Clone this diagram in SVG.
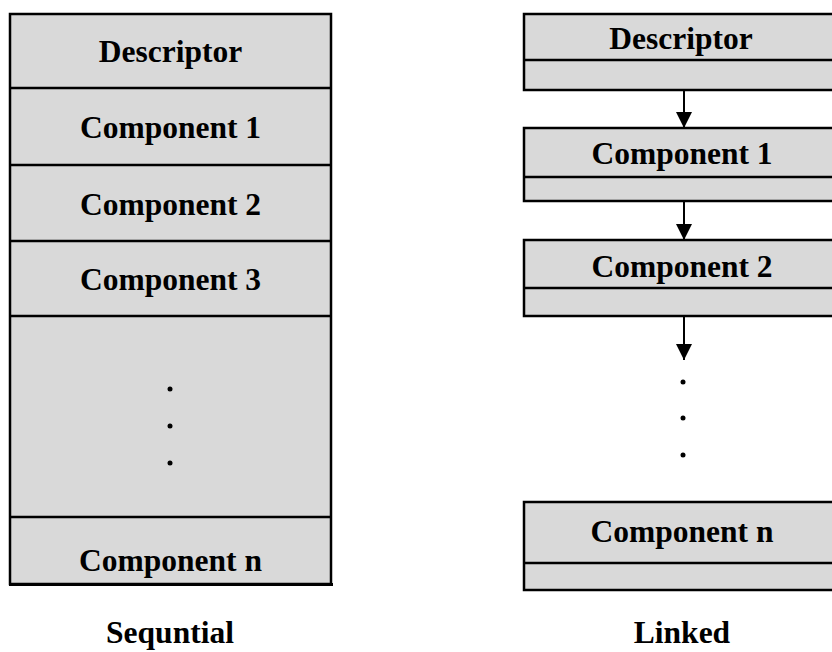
<svg xmlns="http://www.w3.org/2000/svg" width="832" height="652" viewBox="0 0 832 652">
<defs>
<style>
.box{fill:#d9d9d9;stroke:#000;stroke-width:2.5}
.div{stroke:#000;stroke-width:2.5}
.t{font-family:"Liberation Serif","Times New Roman",serif;font-weight:bold;font-size:31.5px;text-anchor:middle;fill:#000}
.conn{stroke:#000;stroke-width:2;fill:none}
</style>
<marker id="ah" markerWidth="16" markerHeight="16" viewBox="0 0 16 16" refX="16" refY="8" orient="auto" markerUnits="userSpaceOnUse">
<path d="M0,0 L16,8 L0,16 Z" fill="#000"/>
</marker>
</defs>
<rect width="832" height="652" fill="#fff"/>
<g id="sequential">
<rect class="box" x="10" y="14" width="321" height="570"/>
<line class="div" x1="10" y1="88" x2="331" y2="88"/>
<line class="div" x1="10" y1="165" x2="331" y2="165"/>
<line class="div" x1="10" y1="241" x2="331" y2="241"/>
<line class="div" x1="10" y1="316" x2="331" y2="316"/>
<line class="div" x1="10" y1="517" x2="331" y2="517"/>
<line x1="9" y1="584.5" x2="333" y2="584.5" stroke="#000" stroke-width="3"/>
<text class="t" x="170.5" y="62">Descriptor</text>
<text class="t" x="170.5" y="138">Component 1</text>
<text class="t" x="170.5" y="215">Component 2</text>
<text class="t" x="170.5" y="290">Component 3</text>
<circle cx="170" cy="389" r="2.5"/>
<circle cx="170" cy="426" r="2.5"/>
<circle cx="170" cy="463" r="2.5"/>
<text class="t" x="170.5" y="571">Component n</text>
</g>
<g id="seq-label"><text class="t" x="170" y="643">Sequntial</text></g>
<g id="l-desc">
<rect class="box" x="524" y="14" width="320" height="76"/>
<line class="div" x1="524" y1="60" x2="844" y2="60"/>
<text class="t" x="681" y="49">Descriptor</text>
</g>
<g id="l-c1">
<rect class="box" x="524" y="128" width="320" height="73"/>
<line class="div" x1="524" y1="177" x2="844" y2="177"/>
<text class="t" x="682" y="164">Component 1</text>
</g>
<g id="l-c2">
<rect class="box" x="524" y="240" width="320" height="76"/>
<line class="div" x1="524" y1="288" x2="844" y2="288"/>
<text class="t" x="682" y="277">Component 2</text>
</g>
<g id="l-dots">
<circle cx="683" cy="382" r="2.5"/>
<circle cx="683" cy="418" r="2.5"/>
<circle cx="683" cy="455" r="2.5"/>
</g>
<g id="l-cn">
<rect class="box" x="524" y="502" width="320" height="88"/>
<line class="div" x1="524" y1="563" x2="844" y2="563"/>
<text class="t" x="682" y="542">Component n</text>
</g>
<g id="link-label"><text class="t" x="682" y="643">Linked</text></g>
<g id="connectors">
<line class="conn" x1="684" y1="91" x2="684" y2="128" marker-end="url(#ah)"/>
<line class="conn" x1="684" y1="202" x2="684" y2="240" marker-end="url(#ah)"/>
<line class="conn" x1="684" y1="317" x2="684" y2="360" marker-end="url(#ah)"/>
</g>
</svg>
